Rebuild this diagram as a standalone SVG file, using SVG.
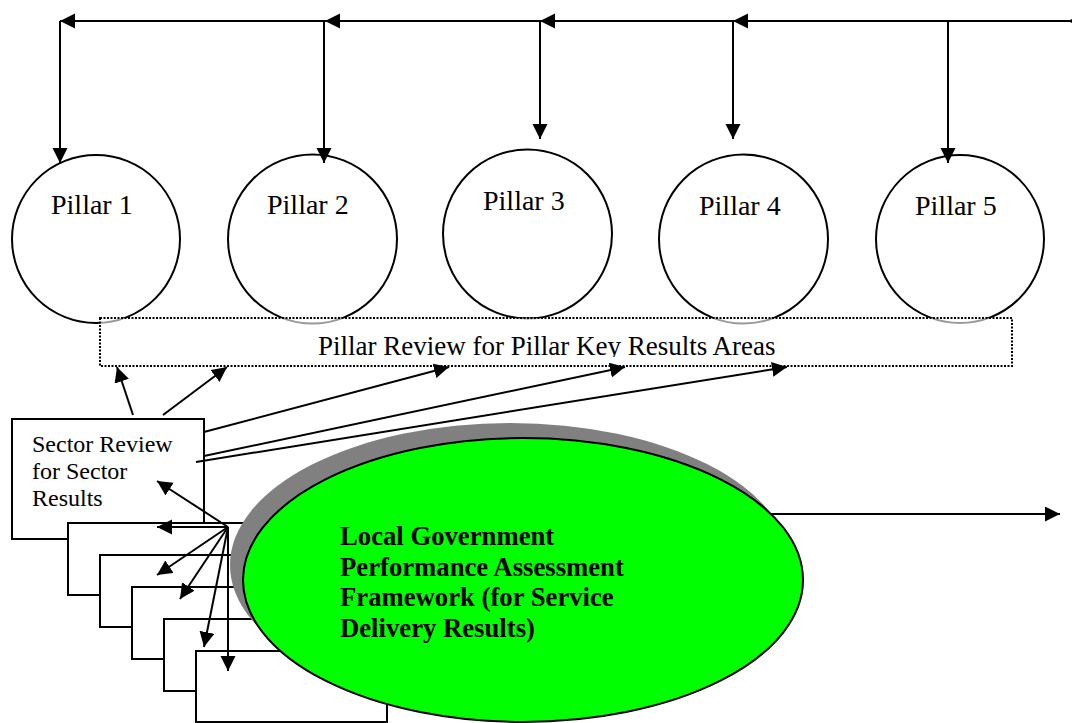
<svg xmlns="http://www.w3.org/2000/svg" width="1072" height="723" viewBox="0 0 1072 723">
<style>
.ln{stroke:#000;stroke-width:2;fill:none}
.ar{stroke:#000;stroke-width:2;fill:none;marker-end:url(#ah)}
.circ{fill:#fff;stroke:#000;stroke-width:2}
.box{fill:#fff;stroke:#000;stroke-width:2}
.t{font-family:"Liberation Serif","Times New Roman",serif;fill:#000}
.pl{font-size:28px}
.sr{font-size:24px}
.lg{font-size:26.7px;font-weight:bold}
</style>
<defs>
<marker id="ah" markerUnits="userSpaceOnUse" markerWidth="16" markerHeight="16" refX="15" refY="7.5" orient="auto" viewBox="0 0 16 16">
<path d="M0,0 L15,7.5 L0,15 z" fill="#000"/>
</marker>
<clipPath id="kc"><rect x="100" y="320" width="912" height="37"/></clipPath>
</defs>
<rect width="1072" height="723" fill="#fff"/>

<g id="pillar1"><circle class="circ" cx="96" cy="239" r="84"/><text class="t pl" x="51" y="214">Pillar 1</text></g>
<g id="pillar2"><circle class="circ" cx="312.5" cy="239" r="84.5"/><text class="t pl" x="267" y="214">Pillar 2</text></g>
<g id="pillar3"><circle class="circ" cx="527.5" cy="234" r="84.5"/><text class="t pl" x="483" y="210">Pillar 3</text></g>
<g id="pillar4"><circle class="circ" cx="743.5" cy="239" r="84.5"/><text class="t pl" x="699" y="215">Pillar 4</text></g>
<g id="pillar5"><circle class="circ" cx="960" cy="239" r="84"/><text class="t pl" x="915" y="215">Pillar 5</text></g>

<g id="pillar-review">
<rect x="100" y="318" width="912" height="48" fill="#fff" fill-opacity="0.6" stroke="#000" stroke-width="2" stroke-dasharray="2 1.5"/>
<text class="t" x="318" y="355" font-size="27px" clip-path="url(#kc)">Pillar Review for Pillar Key Results Areas</text>
</g>

<g id="sector-review">
<rect class="box" x="12" y="419" width="192" height="120"/>
<text class="t sr" x="32" y="452">Sector Review</text>
<text class="t sr" x="32" y="479">for Sector</text>
<text class="t sr" x="32" y="506">Results</text>
</g>

<g id="district-1"><rect class="box" x="68" y="523" width="192" height="72"/></g>
<g id="district-2"><rect class="box" x="100" y="555" width="192" height="72"/></g>
<g id="district-3"><rect class="box" x="132" y="587" width="192" height="72"/></g>
<g id="district-4"><rect class="box" x="164" y="619" width="192" height="72"/></g>
<g id="district-5"><rect class="box" x="196" y="651" width="191" height="71"/></g>

<g id="connectors">
<line class="ar" x1="1100" y1="21" x2="1068" y2="21"/>
<line class="ar" x1="1068" y1="21" x2="733" y2="21"/>
<line class="ar" x1="733" y1="21" x2="540" y2="21"/>
<line class="ar" x1="540" y1="21" x2="325" y2="21"/>
<line class="ar" x1="325" y1="21" x2="60" y2="21"/>
<line class="ar" x1="60" y1="21" x2="60" y2="163"/>
<line class="ar" x1="324" y1="21" x2="324" y2="163"/>
<line class="ar" x1="540" y1="21" x2="540" y2="139"/>
<line class="ar" x1="733" y1="21" x2="733" y2="139"/>
<line class="ar" x1="948" y1="21" x2="948" y2="163"/>

<line class="ar" x1="133" y1="415" x2="117" y2="367"/>
<line class="ar" x1="163" y1="415" x2="227" y2="367"/>
<line class="ar" x1="204" y1="432" x2="449" y2="367"/>
<line class="ar" x1="204" y1="456" x2="625" y2="367"/>
<line class="ar" x1="196" y1="462" x2="787" y2="367"/>

<line class="ar" x1="228" y1="527" x2="157" y2="481"/>
<line class="ar" x1="228" y1="527" x2="157" y2="527"/>
<line class="ar" x1="228" y1="527" x2="157" y2="575"/>
<line class="ar" x1="228" y1="527" x2="180" y2="599"/>
<line class="ar" x1="228" y1="527" x2="204" y2="647"/>
<line class="ar" x1="228" y1="527" x2="228" y2="671"/>

<line class="ar" x1="700" y1="514" x2="1060" y2="514"/>
</g>

<g id="lgpaf">
<ellipse cx="510" cy="565" rx="280" ry="142" fill="#808080"/>
<ellipse cx="523" cy="580" rx="280" ry="142" fill="#00ff00" stroke="#000" stroke-width="2"/>
<text class="t lg" x="340" y="545">Local Government</text>
<text class="t lg" x="340" y="576">Performance Assessment</text>
<text class="t lg" x="340" y="606">Framework (for Service</text>
<text class="t lg" x="340" y="637">Delivery Results)</text>
</g>
</svg>
